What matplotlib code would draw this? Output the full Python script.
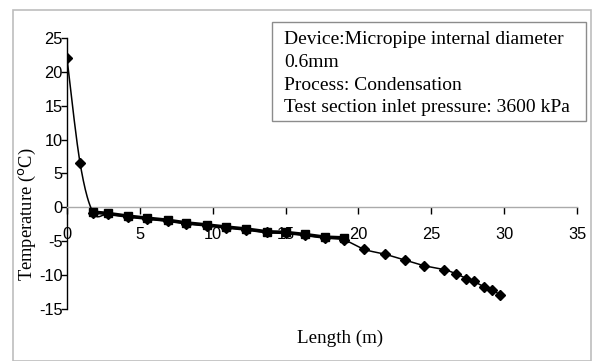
import numpy as np
import matplotlib
matplotlib.use("Agg")
import matplotlib.pyplot as plt
from matplotlib.patches import Rectangle

plt.rcParams["axes.unicode_minus"] = False

# Data
sq_x = [1.8, 2.8, 4.2, 5.5, 6.9, 8.2, 9.6, 10.9, 12.3, 13.7, 15.0, 16.3, 17.7, 19.0]
sq_y = [-0.7, -0.9, -1.3, -1.6, -1.9, -2.3, -2.6, -2.9, -3.2, -3.6, -3.7, -4.0, -4.4, -4.5]

dm_x = [0.0, 0.9, 1.8, 2.8, 4.2, 5.5, 6.9, 8.2, 9.6, 10.9, 12.3, 13.7, 15.0, 16.3, 17.7, 19.0,
        20.4, 21.8, 23.2, 24.5, 25.9, 26.7, 27.4, 27.9, 28.6, 29.2, 29.7]
dm_y = [22.0, 6.5, -0.8, -1.0, -1.4, -1.7, -2.0, -2.4, -2.7, -3.0, -3.3, -3.7, -3.8, -4.1, -4.5, -4.8,
        -6.2, -6.9, -7.8, -8.6, -9.2, -9.8, -10.5, -10.9, -11.7, -12.2, -12.9]

x_ticks = [0, 5, 10, 15, 20, 25, 30, 35]
y_ticks = [-15, -10, -5, 0, 5, 10, 15, 20, 25]

info = ["Device:Micropipe internal diameter", "0.6mm", "Process: Condensation",
        "Test section inlet pressure: 3600 kPa"]


# Excel-style smoothed line (Catmull-Rom through the points)
def smooth(x, y, n=20):
    p = np.column_stack([x, y])
    p = np.vstack([p[0], p, p[-1]])
    out = []
    t = np.linspace(0, 1, n, endpoint=False)[:, None]
    for i in range(1, len(p) - 2):
        p0, p1, p2, p3 = p[i - 1], p[i], p[i + 1], p[i + 2]
        seg = 0.5 * ((2 * p1) + (-p0 + p2) * t + (2 * p0 - 5 * p1 + 4 * p2 - p3) * t ** 2
                     + (-p0 + 3 * p1 - 3 * p2 + p3) * t ** 3)
        out.append(seg)
    out.append(p[-2][None, :])
    out = np.vstack(out)
    return out[:, 0], out[:, 1]


W, H = 594, 361
fig = plt.figure(figsize=(W / 100, H / 100), dpi=100)
fig.patch.set_facecolor("white")

# outer chart frame
fig.patches.append(Rectangle((13 / W, 0.5 / H), 578 / W, (H - 10.5) / H, transform=fig.transFigure,
                             fill=False, edgecolor="#bdbdbd", linewidth=1.2))

ax = fig.add_axes([67 / W, (H - 309) / H, 510 / W, 271 / H])
ax.set_xlim(0, 35)
ax.set_ylim(-15, 25)

sx, sy = smooth(dm_x, dm_y)
ax.plot(sx, sy, color="black", linewidth=1.1, zorder=3)
ax.plot(dm_x, dm_y, linestyle="none", marker="D", markersize=5, color="black", zorder=4)
ax.plot(sq_x, sq_y, color="black", linewidth=2.6, marker="s", markersize=5.5, zorder=5)

for s in ["top", "right"]:
    ax.spines[s].set_visible(False)
ax.spines["bottom"].set_position(("data", 0))
ax.spines["bottom"].set_color("#aaaaaa")
ax.spines["bottom"].set_linewidth(1.0)
ax.spines["left"].set_color("black")
ax.spines["left"].set_linewidth(1.0)

ax.set_xticks(x_ticks)
ax.set_yticks(y_ticks)
ax.tick_params(axis="x", direction="out", length=5, width=1, color="black", pad=9,
               labelsize=11.8)
ax.tick_params(axis="y", direction="out", length=4, width=1, color="black", pad=-1,
               labelsize=11.8)
for lab in ax.get_xticklabels() + ax.get_yticklabels():
    lab.set_fontfamily("Liberation Sans")

fig.text(27 / W, 1 - 214 / H, r"Temperature ($^{\rm o}$C)", rotation=90, ha="center", va="center",
         fontsize=13.3, family="Liberation Serif")
fig.text(340 / W, 1 - 338 / H, "Length (m)", ha="center", va="center",
         fontsize=13.7, family="Liberation Serif")

# info box
fig.patches.append(Rectangle((272 / W, 1 - 121 / H), 314 / W, 99 / H, transform=fig.transFigure,
                             fill=True, facecolor="white", edgecolor="#8c8c8c", linewidth=1.0,
                             zorder=5))
for i, line in enumerate(info):
    fig.text(284 / W, 1 - (40 + 22.6 * i) / H, line, ha="left", va="center", fontsize=14,
             family="Liberation Serif", zorder=6)

fig.savefig("out.png", dpi=100)
